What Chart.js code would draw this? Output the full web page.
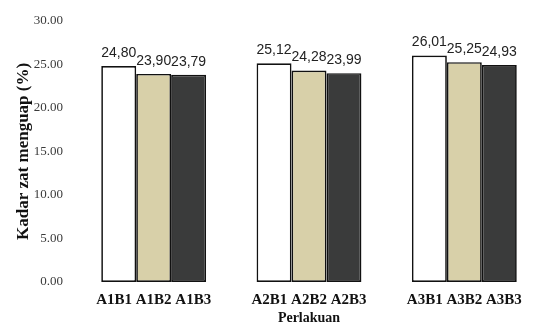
<!DOCTYPE html>
<html>
<head>
<meta charset="utf-8">
<script src="https://cdn.jsdelivr.net/npm/chart.js@4/dist/chart.umd.min.js"></script>
<style>
  html, body { margin: 0; padding: 0; background: #fff; overflow: hidden; }
  #wrap { width: 545px; height: 325px; }
</style>
</head>
<body>
<div id="wrap"><canvas id="c" width="545" height="325"></canvas></div>
<script>
// Kadar zat menguap (%) per perlakuan
const groupsA = ['A1', 'A2', 'A3'];
const levelsB = ['B1', 'B2', 'B3'];
const valuesB1 = [24.80, 25.12, 26.01];
const valuesB2 = [23.90, 24.28, 25.25];
const valuesB3 = [23.79, 23.99, 24.93];
const yTicks = [0, 5, 10, 15, 20, 25, 30];

const fills = ['#ffffff', '#d8d0a9', '#3a3b3b'];
const seriesValues = [valuesB1, valuesB2, valuesB3];

// x labels: the three treatment names of each group under that group
const groupLabels = groupsA.map(a => levelsB.map(b => a + b).join(' '));

// writes each bar's value above it, with a decimal comma
const valueLabels = {
  id: 'valueLabels',
  afterDatasetsDraw(chart) {
    const ctx = chart.ctx;
    ctx.save();
    ctx.font = '14px "Liberation Sans Narrow", "Liberation Sans", sans-serif';
    ctx.fillStyle = '#222';
    ctx.textAlign = 'center';
    ctx.textBaseline = 'bottom';
    chart.data.datasets.forEach((ds, i) => {
      chart.getDatasetMeta(i).data.forEach((bar, j) => {
        ctx.fillText(ds.data[j].toFixed(2).replace('.', ','), bar.x, bar.y - 6);
      });
    });
    ctx.restore();
  }
};

new Chart(document.getElementById('c'), {
  type: 'bar',
  data: {
    labels: groupLabels,
    datasets: levelsB.map((b, i) => ({
      label: b,
      data: seriesValues[i],
      backgroundColor: fills[i],
      borderColor: '#111',
      borderWidth: 1.7,
      borderSkipped: false,
      barPercentage: 1,
      categoryPercentage: 0.675
    }))
  },
  options: {
    responsive: false,
    animation: false,
    layout: { padding: { top: 20, right: 3, left: 0, bottom: 0 } },
    plugins: { legend: { display: false }, tooltip: { enabled: false } },
    scales: {
      y: {
        min: 0, max: 30,
        afterBuildTicks(scale) { scale.ticks = yTicks.map(v => ({ value: v })); },
        afterFit(scale) { scale.width = 76; },
        grid: { display: false, drawTicks: false },
        border: { display: false },
        ticks: {
          padding: 13,
          color: '#3a3a3a',
          font: { family: '"Liberation Serif", serif', size: 13 },
          callback: v => Number(v).toFixed(2)
        },
        title: {
          display: true,
          text: 'Kadar zat menguap (%)',
          color: '#111',
          padding: { top: 13, bottom: 0 },
          font: { family: '"Liberation Serif", serif', size: 17, weight: 'bold' }
        }
      },
      x: {
        afterFit(scale) { scale.height = 43; },
        grid: { display: false, drawTicks: false },
        border: { display: false },
        ticks: {
          padding: 9,
          color: '#111',
          maxRotation: 0,
          autoSkip: false,
          font: { family: '"Liberation Serif", serif', size: 15, weight: 'bold' }
        },
        title: {
          display: true,
          text: 'Perlakuan',
          color: '#111',
          padding: { top: 0, bottom: 0 },
          font: { family: '"Liberation Serif", serif', size: 14, weight: 'bold', lineHeight: 1 }
        }
      }
    }
  },
  plugins: [valueLabels]
});
</script>
</body>
</html>
